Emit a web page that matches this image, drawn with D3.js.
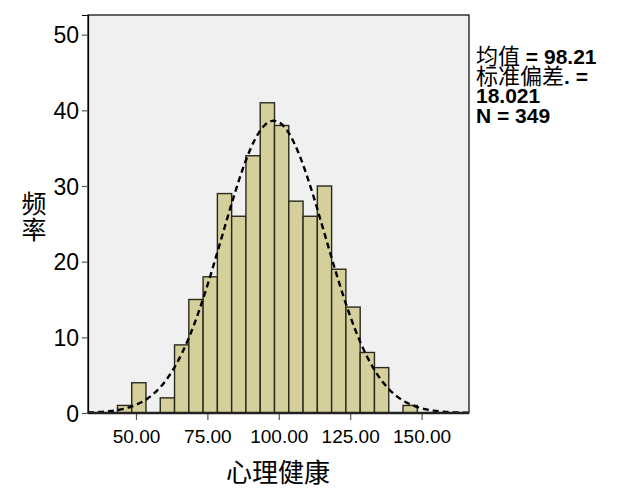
<!DOCTYPE html>
<html>
<head>
<meta charset="utf-8">
<script src="https://cdn.jsdelivr.net/npm/d3@7"></script>
<style>
  body { margin: 0; background: #fff; }
  svg { display: block; }
</style>
</head>
<body>
<div id="chart"></div>
<script>
// histogram of 心理健康 with normal curve, spss style

const binStarts = [43.5, 48.5, 53.5, 58.5, 63.5, 68.5, 73.5, 78.5, 83.5, 88.5, 93.5,
                   98.5, 103.5, 108.5, 113.5, 118.5, 123.5, 128.5, 133.5, 138.5, 143.5];
const counts = [1, 4, 0, 2, 9, 15, 18, 29, 26, 34, 41, 38, 28, 26, 30, 19, 14, 8, 6, 0, 1];
const binWidth = 5;

const xTicks = [50, 75, 100, 125, 150];
const yTicks = [0, 10, 20, 30, 40, 50];

const meanVal = 98.21;
const sdVal = 18.021;
const nVal = 349;

const W = 625, H = 500;
const plot = { left: 88, right: 469, top: 15, bottom: 413 };

const svg = d3.select("#chart").append("svg")
    .attr("width", W)
    .attr("height", H);

const x = d3.scaleLinear().domain([33.2, 166.6]).range([plot.left, plot.right]);
const y = d3.scaleLinear().domain([0, 52.6]).range([plot.bottom, plot.top]);

// grey plot bg + frame
svg.append("rect")
    .attr("x", plot.left)
    .attr("y", plot.top)
    .attr("width", plot.right - plot.left)
    .attr("height", plot.bottom - plot.top)
    .attr("fill", "#f0f0f0")
    .attr("stroke", "#000")
    .attr("stroke-width", 1.2);

// bars (empty bins are just skipped)
const bins = binStarts.map((s, i) => ({ start: s, count: counts[i] })).filter(d => d.count > 0);

svg.selectAll("rect.bar")
    .data(bins)
    .enter()
    .append("rect")
    .attr("class", "bar")
    .attr("x", d => x(d.start))
    .attr("y", d => y(d.count))
    .attr("width", d => x(d.start + binWidth) - x(d.start))
    .attr("height", d => y(0) - y(d.count))
    .attr("fill", "#d4cf9b")
    .attr("stroke", "#2a2a1c")
    .attr("stroke-width", 1.4);

// normal curve from the stats shown on the right
const pdf = v => nVal * binWidth / (sdVal * Math.sqrt(2 * Math.PI)) *
    Math.exp(-0.5 * Math.pow((v - meanVal) / sdVal, 2));
const curvePts = d3.range(33.2, 166.7, 0.5).map(v => [v, pdf(v)]);

svg.append("path")
    .datum(curvePts)
    .attr("d", d3.line().x(d => x(d[0])).y(d => y(d[1])).curve(d3.curveBasis))
    .attr("fill", "none")
    .attr("stroke", "#000")
    .attr("stroke-width", 2.4)
    .attr("stroke-dasharray", "6,4");

// axes
const yAxis = svg.append("g")
    .attr("transform", `translate(${plot.left},0)`)
    .call(d3.axisLeft(y).tickValues(yTicks).tickSize(6).tickPadding(3).tickFormat(d3.format("d")));
yAxis.select(".domain").attr("stroke", "#000").attr("stroke-width", 1.2);
yAxis.selectAll(".tick line").attr("stroke", "#555").attr("stroke-width", 1.2);
yAxis.selectAll("text")
    .attr("fill", "#000")
    .attr("dy", "0.36em")
    .style("font-family", "'Liberation Sans', Arial, sans-serif")
    .style("font-size", "23px");

const xAxis = svg.append("g")
    .attr("transform", `translate(0,${plot.bottom})`)
    .call(d3.axisBottom(x).tickValues(xTicks).tickSize(7).tickPadding(10).tickFormat(d3.format(".2f")));
xAxis.select(".domain").remove();
xAxis.selectAll(".tick line").attr("stroke", "#555").attr("stroke-width", 1.2);
xAxis.selectAll("text")
    .attr("fill", "#000")
    .style("font-family", "'Liberation Sans', Arial, sans-serif")
    .style("font-size", "19px");

// thick base line at 0
svg.append("line")
    .attr("x1", plot.left)
    .attr("x2", plot.right)
    .attr("y1", y(0))
    .attr("y2", y(0))
    .attr("stroke", "#222")
    .attr("stroke-width", 2.4);

// axis titles
svg.append("text")
    .attr("x", 278)
    .attr("y", 482)
    .attr("text-anchor", "middle")
    .text("心理健康")
    .style("font-family", "'Noto Sans CJK SC', sans-serif")
    .style("font-size", "26px")
    .attr("fill", "#000");

// vertical 频率, one text node
svg.append("text")
    .attr("x", 34)
    .attr("y", 191)
    .text("频率")
    .style("writing-mode", "vertical-rl")
    .style("letter-spacing", "1px")
    .style("font-family", "'Noto Sans CJK SC', sans-serif")
    .style("font-size", "25px")
    .attr("fill", "#000");

// stats text
const statLines = [
    [["均值", false], [" = " + meanVal.toFixed(2), true]],
    [["标准偏差", false], [". =", true]],
    [[sdVal.toFixed(3), true]],
    [["N = " + nVal, true]]
];
statLines.forEach((parts, i) => {
    const t = svg.append("text")
        .attr("x", 476)
        .attr("y", 64 + i * 19.5)
        .attr("fill", "#000");
    parts.forEach(([s, bold]) => {
        t.append("tspan")
            .text(s)
            .style("font-size", bold ? "21px" : "22px")
            .style("font-family", bold ? "'Liberation Sans', Arial, sans-serif" : "'Noto Sans CJK SC', sans-serif")
            .style("font-weight", bold ? "bold" : "normal");
    });
});
</script>
</body>
</html>
